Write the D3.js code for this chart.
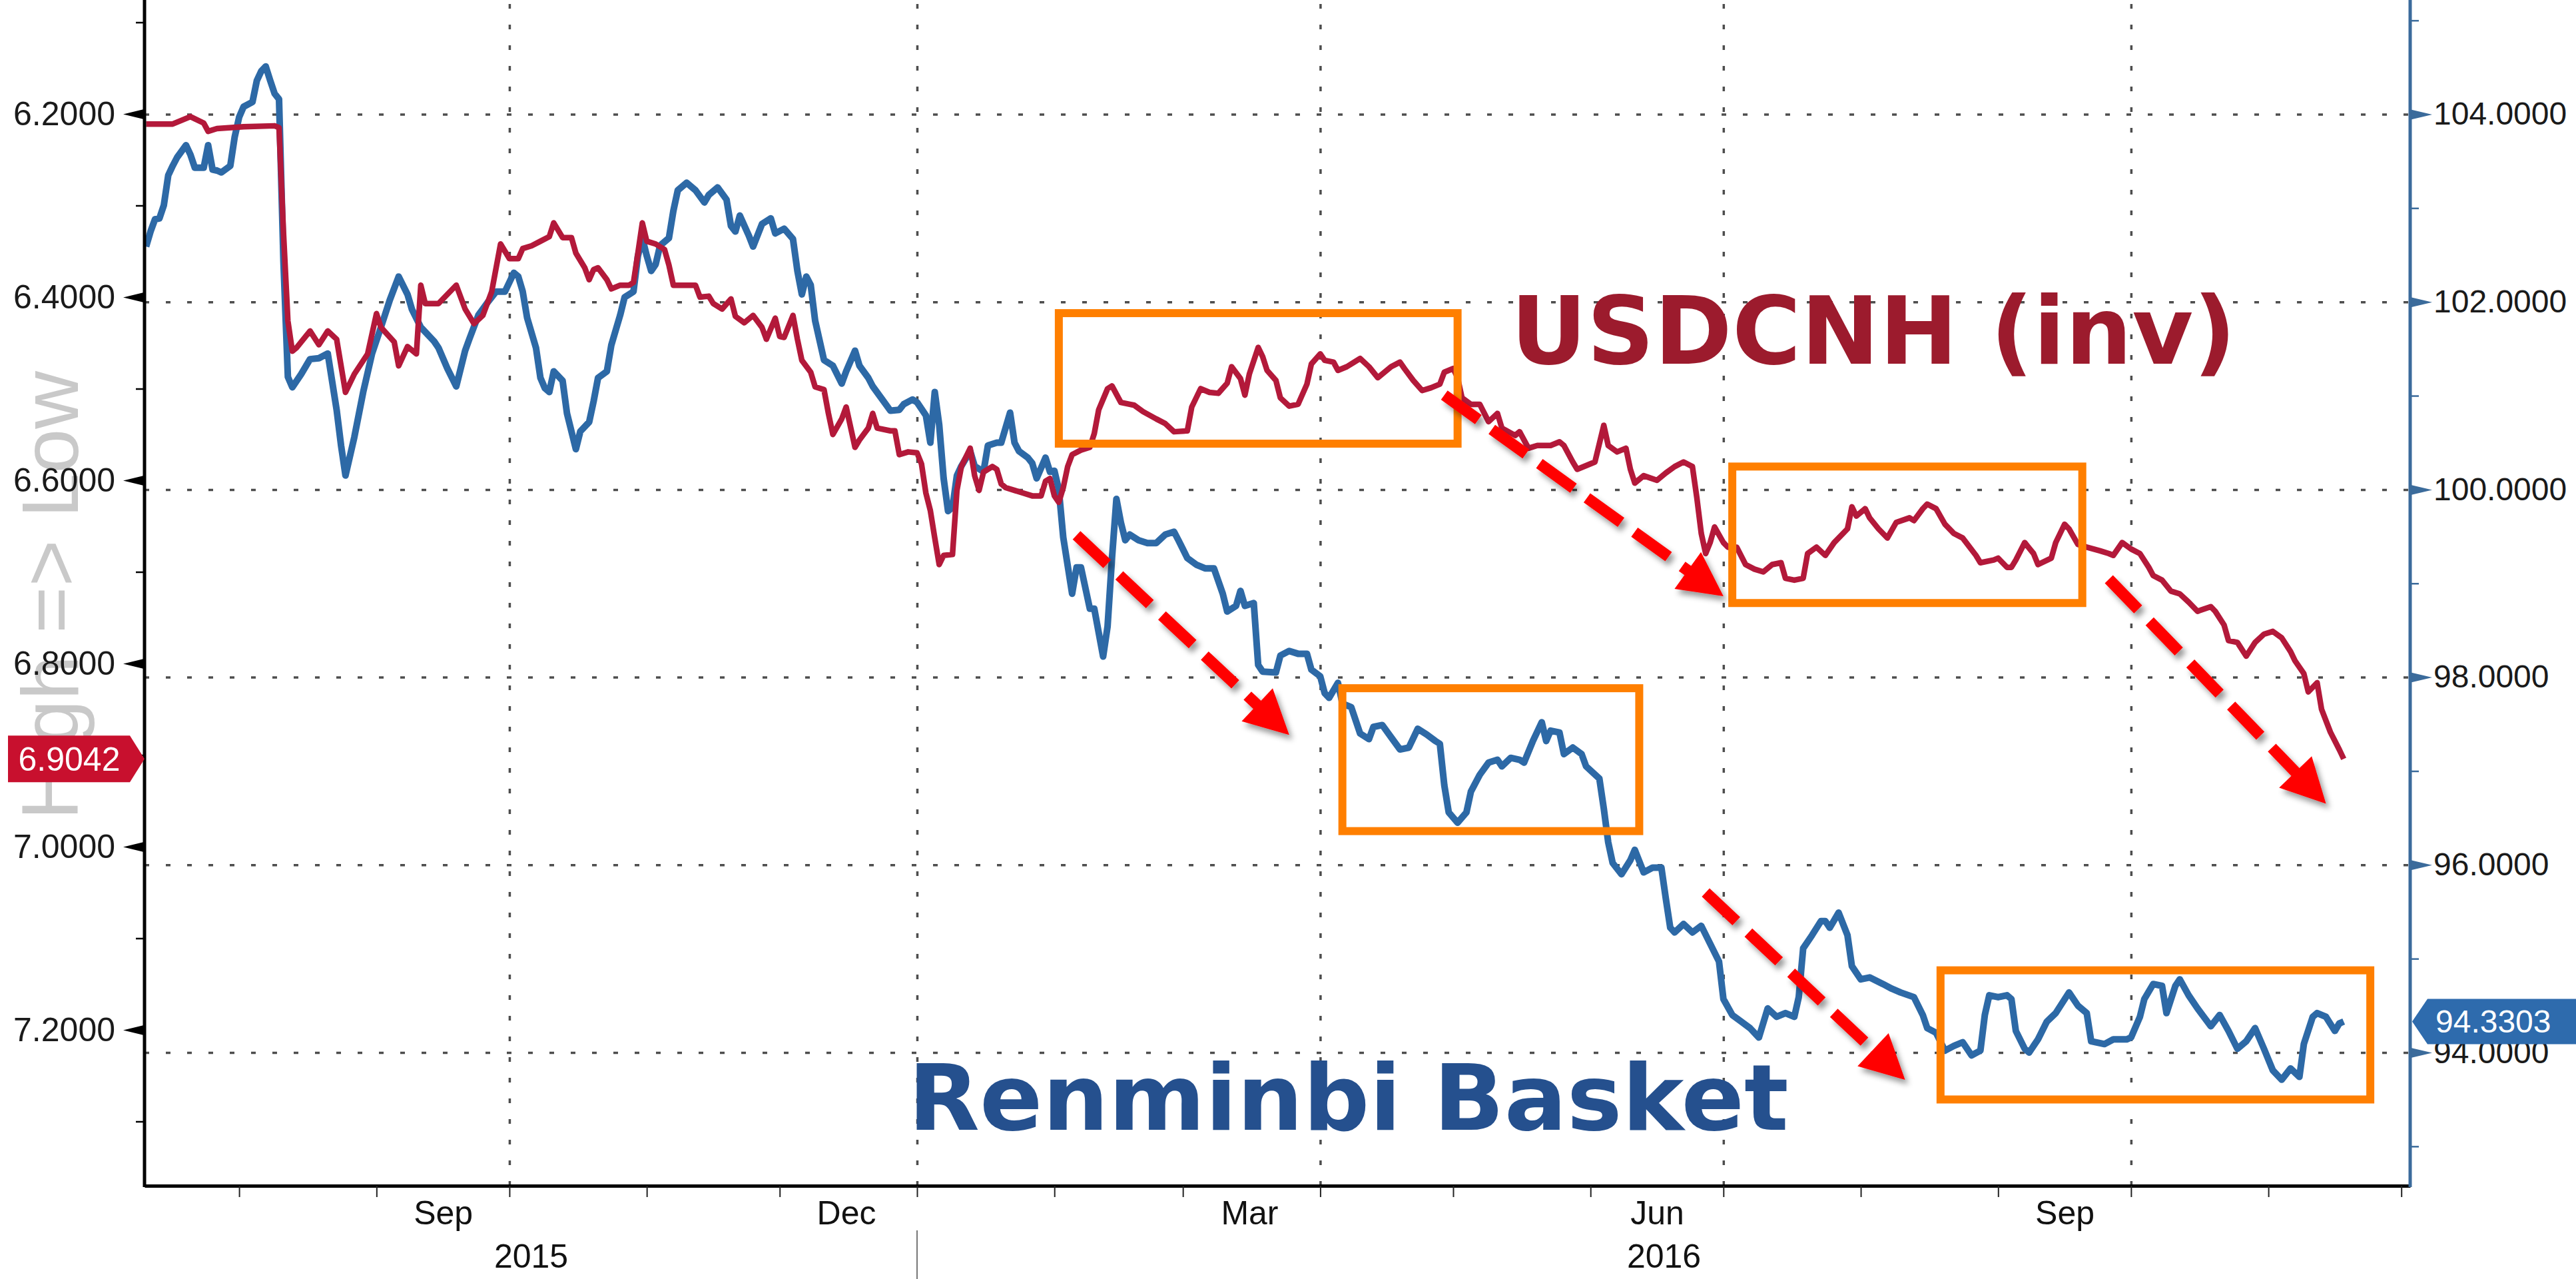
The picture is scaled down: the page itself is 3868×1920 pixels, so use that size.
<!DOCTYPE html>
<html>
<head>
<meta charset="utf-8">
<script src="https://cdn.jsdelivr.net/npm/d3@7/dist/d3.min.js"></script>
<style>
  body { margin: 0; background: #fff; }
  svg { display: block; }
</style>
</head>
<body>
<script>
// USDCNH, left axis (inverted) : [date, value]
var cnhSeries = [
  ["2015-07-11",6.211],["2015-07-17",6.211],["2015-07-21",6.203],["2015-07-24",6.210],["2015-07-25",6.219],
  ["2015-07-27",6.216],["2015-08-02",6.214],["2015-08-09",6.213],["2015-08-10",6.215],["2015-08-11",6.329],
  ["2015-08-12",6.426],["2015-08-13",6.459],["2015-08-14",6.455],["2015-08-17",6.437],["2015-08-19",6.452],
  ["2015-08-21",6.437],["2015-08-23",6.446],["2015-08-25",6.504],["2015-08-27",6.484],["2015-08-30",6.462],
  ["2015-09-01",6.418],["2015-09-02",6.433],["2015-09-05",6.449],["2015-09-06",6.475],["2015-09-08",6.454],
  ["2015-09-10",6.462],["2015-09-11",6.387],["2015-09-12",6.407],["2015-09-15",6.407],["2015-09-19",6.387],
  ["2015-09-21",6.413],["2015-09-23",6.429],["2015-09-25",6.420],["2015-09-27",6.394],["2015-09-29",6.342],
  ["2015-10-01",6.358],["2015-10-03",6.358],["2015-10-04",6.347],["2015-10-06",6.344],["2015-10-08",6.339],
  ["2015-10-10",6.334],["2015-10-11",6.319],["2015-10-13",6.335],["2015-10-15",6.335],["2015-10-16",6.352],
  ["2015-10-18",6.368],["2015-10-19",6.381],["2015-10-20",6.370],["2015-10-21",6.368],["2015-10-23",6.381],
  ["2015-10-24",6.391],["2015-10-26",6.387],["2015-10-28",6.387],["2015-10-29",6.384],["2015-10-30",6.352],
  ["2015-10-31",6.319],["2015-11-01",6.339],["2015-11-03",6.342],["2015-11-05",6.348],["2015-11-06",6.365],
  ["2015-11-07",6.387],["2015-11-09",6.387],["2015-11-12",6.387],["2015-11-13",6.400],["2015-11-15",6.399],
  ["2015-11-16",6.407],["2015-11-18",6.413],["2015-11-20",6.402],["2015-11-21",6.421],["2015-11-23",6.428],
  ["2015-11-25",6.420],["2015-11-27",6.433],["2015-11-28",6.446],["2015-11-30",6.423],["2015-12-01",6.443],
  ["2015-12-02",6.444],["2015-12-04",6.420],["2015-12-05",6.446],["2015-12-06",6.469],["2015-12-08",6.482],
  ["2015-12-09",6.498],["2015-12-11",6.501],["2015-12-12",6.527],["2015-12-13",6.550],["2015-12-15",6.533],
  ["2015-12-16",6.520],["2015-12-18",6.564],["2015-12-19",6.556],["2015-12-21",6.543],["2015-12-22",6.527],
  ["2015-12-23",6.543],["2015-12-26",6.546],["2015-12-27",6.546],["2015-12-28",6.572],["2015-12-30",6.569],
  ["2016-01-01",6.570],["2016-01-02",6.582],["2016-01-03",6.614],["2016-01-04",6.633],["2016-01-05",6.663],
  ["2016-01-06",6.692],["2016-01-07",6.682],["2016-01-09",6.681],["2016-01-10",6.611],["2016-01-11",6.585],
  ["2016-01-12",6.575],["2016-01-13",6.565],["2016-01-14",6.595],["2016-01-15",6.611],["2016-01-16",6.591],
  ["2016-01-18",6.585],["2016-01-19",6.588],["2016-01-20",6.604],["2016-01-21",6.608],["2016-01-23",6.611],
  ["2016-01-25",6.614],["2016-01-27",6.617],["2016-01-29",6.617],["2016-01-30",6.601],["2016-01-31",6.598],
  ["2016-02-01",6.617],["2016-02-02",6.624],["2016-02-03",6.608],["2016-02-04",6.585],["2016-02-05",6.572],
  ["2016-02-07",6.567],["2016-02-09",6.564],["2016-02-10",6.549],["2016-02-11",6.523],["2016-02-13",6.500],
  ["2016-02-14",6.497],["2016-02-16",6.515],["2016-02-18",6.517],["2016-02-19",6.518],["2016-02-21",6.525],
  ["2016-02-24",6.533],["2016-02-26",6.538],["2016-02-28",6.547],["2016-03-02",6.546],["2016-03-03",6.520],
  ["2016-03-05",6.500],["2016-03-07",6.504],["2016-03-09",6.505],["2016-03-11",6.494],["2016-03-12",6.476],
  ["2016-03-14",6.489],["2016-03-15",6.507],["2016-03-16",6.484],["2016-03-18",6.455],["2016-03-19",6.465],
  ["2016-03-20",6.480],["2016-03-22",6.491],["2016-03-23",6.510],["2016-03-25",6.519],["2016-03-27",6.517],
  ["2016-03-29",6.495],["2016-03-30",6.473],["2016-04-01",6.462],["2016-04-02",6.469],["2016-04-04",6.471],
  ["2016-04-05",6.480],["2016-04-07",6.476],["2016-04-10",6.467],["2016-04-12",6.476],["2016-04-14",6.488],
  ["2016-04-17",6.476],["2016-04-19",6.471],["2016-04-20",6.478],["2016-04-22",6.491],["2016-04-24",6.502],
  ["2016-04-26",6.499],["2016-04-28",6.495],["2016-04-29",6.482],["2016-05-01",6.478],["2016-05-02",6.488],
  ["2016-05-03",6.510],["2016-05-05",6.517],["2016-05-07",6.517],["2016-05-09",6.536],["2016-05-11",6.527],
  ["2016-05-12",6.543],["2016-05-15",6.551],["2016-05-16",6.547],["2016-05-18",6.565],["2016-05-20",6.562],
  ["2016-05-23",6.562],["2016-05-25",6.558],["2016-05-26",6.562],["2016-05-28",6.580],["2016-05-29",6.588],
  ["2016-05-31",6.584],["2016-06-02",6.580],["2016-06-04",6.540],["2016-06-05",6.562],["2016-06-07",6.569],
  ["2016-06-09",6.565],["2016-06-10",6.588],["2016-06-11",6.603],["2016-06-13",6.595],["2016-06-16",6.600],
  ["2016-06-18",6.592],["2016-06-20",6.585],["2016-06-22",6.580],["2016-06-24",6.585],["2016-06-25",6.619],
  ["2016-06-26",6.658],["2016-06-27",6.680],["2016-06-28",6.668],["2016-06-29",6.651],["2016-07-01",6.668],
  ["2016-07-02",6.673],["2016-07-04",6.673],["2016-07-06",6.692],["2016-07-08",6.697],["2016-07-10",6.700],
  ["2016-07-12",6.692],["2016-07-14",6.690],["2016-07-15",6.707],["2016-07-17",6.709],["2016-07-19",6.707],
  ["2016-07-20",6.680],["2016-07-22",6.673],["2016-07-24",6.682],["2016-07-26",6.668],["2016-07-29",6.653],
  ["2016-07-30",6.629],["2016-07-31",6.639],["2016-08-02",6.631],["2016-08-03",6.641],["2016-08-05",6.653],
  ["2016-08-07",6.663],["2016-08-09",6.646],["2016-08-12",6.641],["2016-08-13",6.644],["2016-08-15",6.631],
  ["2016-08-16",6.626],["2016-08-18",6.631],["2016-08-20",6.648],["2016-08-22",6.658],["2016-08-24",6.663],
  ["2016-08-27",6.682],["2016-08-28",6.690],["2016-08-31",6.687],["2016-09-01",6.685],["2016-09-03",6.695],
  ["2016-09-04",6.695],["2016-09-05",6.687],["2016-09-07",6.668],["2016-09-09",6.680],["2016-09-10",6.692],
  ["2016-09-13",6.685],["2016-09-14",6.668],["2016-09-16",6.648],["2016-09-17",6.653],["2016-09-19",6.670],
  ["2016-09-21",6.673],["2016-09-24",6.677],["2016-09-26",6.680],["2016-09-27",6.682],["2016-09-29",6.668],
  ["2016-10-01",6.675],["2016-10-03",6.680],["2016-10-05",6.695],["2016-10-06",6.704],["2016-10-08",6.709],
  ["2016-10-10",6.721],["2016-10-12",6.724],["2016-10-14",6.733],["2016-10-16",6.743],["2016-10-19",6.738],
  ["2016-10-20",6.743],["2016-10-22",6.758],["2016-10-23",6.775],["2016-10-25",6.777],["2016-10-27",6.792],
  ["2016-10-29",6.777],["2016-10-31",6.768],["2016-11-02",6.765],["2016-11-04",6.772],["2016-11-06",6.787],
  ["2016-11-07",6.797],["2016-11-09",6.811],["2016-11-10",6.831],["2016-11-12",6.821],["2016-11-13",6.850],
  ["2016-11-15",6.875],["2016-11-17",6.894],["2016-11-18",6.9042]
];

// Renminbi basket index, right axis : [date, value]
var basketSeries = [
  ["2015-07-11",102.59],["2015-07-12",102.75],["2015-07-13",102.88],["2015-07-14",102.89],["2015-07-15",103.03],
  ["2015-07-16",103.35],["2015-07-17",103.45],["2015-07-18",103.54],["2015-07-20",103.67],["2015-07-21",103.57],
  ["2015-07-22",103.43],["2015-07-24",103.43],["2015-07-25",103.67],["2015-07-26",103.41],["2015-07-27",103.40],
  ["2015-07-28",103.38],["2015-07-30",103.45],["2015-07-31",103.76],["2015-08-01",103.97],["2015-08-02",104.08],
  ["2015-08-04",104.13],["2015-08-05",104.36],["2015-08-06",104.46],["2015-08-07",104.51],["2015-08-08",104.36],
  ["2015-08-09",104.22],["2015-08-10",104.16],["2015-08-11",102.43],["2015-08-12",101.20],["2015-08-13",101.09],
  ["2015-08-15",101.23],["2015-08-17",101.39],["2015-08-19",101.40],["2015-08-21",101.45],["2015-08-23",100.85],
  ["2015-08-24",100.47],["2015-08-25",100.15],["2015-08-27",100.56],["2015-08-29",101.04],["2015-08-31",101.45],
  ["2015-09-02",101.73],["2015-09-04",102.02],["2015-09-06",102.27],["2015-09-08",102.08],["2015-09-09",101.92],
  ["2015-09-11",101.73],["2015-09-14",101.58],["2015-09-15",101.51],["2015-09-17",101.29],["2015-09-19",101.10],
  ["2015-09-21",101.48],["2015-09-22",101.61],["2015-09-24",101.86],["2015-09-26",101.99],["2015-09-28",102.11],
  ["2015-09-30",102.11],["2015-10-02",102.31],["2015-10-03",102.27],["2015-10-04",102.11],["2015-10-05",101.83],
  ["2015-10-07",101.51],["2015-10-08",101.19],["2015-10-09",101.08],["2015-10-10",101.04],["2015-10-11",101.26],
  ["2015-10-13",101.16],["2015-10-14",100.81],["2015-10-16",100.43],["2015-10-17",100.62],["2015-10-19",100.72],
  ["2015-10-20",100.94],["2015-10-21",101.19],["2015-10-23",101.26],["2015-10-24",101.54],["2015-10-26",101.86],
  ["2015-10-27",102.05],["2015-10-29",102.11],["2015-10-30",102.49],["2015-10-31",102.68],["2015-11-01",102.49],
  ["2015-11-02",102.33],["2015-11-03",102.40],["2015-11-04",102.60],["2015-11-06",102.68],["2015-11-07",102.97],
  ["2015-11-08",103.19],["2015-11-10",103.27],["2015-11-12",103.19],["2015-11-14",103.06],["2015-11-15",103.14],
  ["2015-11-17",103.22],["2015-11-19",103.09],["2015-11-20",102.81],["2015-11-21",102.75],["2015-11-22",102.92],
  ["2015-11-24",102.71],["2015-11-25",102.59],["2015-11-27",102.83],["2015-11-29",102.89],["2015-11-30",102.73],
  ["2015-12-02",102.78],["2015-12-04",102.67],["2015-12-05",102.33],["2015-12-06",102.08],["2015-12-07",102.27],
  ["2015-12-08",102.18],["2015-12-09",101.80],["2015-12-11",101.38],["2015-12-13",101.32],["2015-12-15",101.13],
  ["2015-12-16",101.26],["2015-12-18",101.48],["2015-12-19",101.32],["2015-12-21",101.19],["2015-12-22",101.10],
  ["2015-12-24",100.97],["2015-12-26",100.84],["2015-12-28",100.85],["2015-12-29",100.91],["2015-12-31",100.96],
  ["2016-01-01",100.93],["2016-01-03",100.79],["2016-01-04",100.50],["2016-01-05",101.04],["2016-01-06",100.69],
  ["2016-01-07",100.12],["2016-01-08",99.77],["2016-01-09",99.81],["2016-01-10",100.15],["2016-01-11",100.25],
  ["2016-01-13",100.41],["2016-01-14",100.25],["2016-01-16",100.19],["2016-01-17",100.47],["2016-01-19",100.50],
  ["2016-01-20",100.50],["2016-01-22",100.82],["2016-01-23",100.50],["2016-01-24",100.41],["2016-01-26",100.34],
  ["2016-01-27",100.28],["2016-01-28",100.12],["2016-01-30",100.34],["2016-01-31",100.19],["2016-02-01",100.20],
  ["2016-02-02",100.00],["2016-02-03",99.49],["2016-02-05",98.89],["2016-02-06",99.17],["2016-02-07",99.17],
  ["2016-02-09",98.73],["2016-02-10",98.73],["2016-02-12",98.22],["2016-02-13",98.54],["2016-02-14",99.27],
  ["2016-02-15",99.90],["2016-02-16",99.65],["2016-02-17",99.46],["2016-02-18",99.52],["2016-02-20",99.46],
  ["2016-02-22",99.43],["2016-02-24",99.43],["2016-02-26",99.52],["2016-02-28",99.55],["2016-02-29",99.46],
  ["2016-03-02",99.27],["2016-03-04",99.20],["2016-03-06",99.16],["2016-03-08",99.16],["2016-03-10",98.89],
  ["2016-03-11",98.70],["2016-03-13",98.76],["2016-03-14",98.92],["2016-03-15",98.76],["2016-03-17",98.79],
  ["2016-03-18",98.13],["2016-03-19",98.06],["2016-03-22",98.05],["2016-03-23",98.23],["2016-03-25",98.28],
  ["2016-03-27",98.25],["2016-03-29",98.25],["2016-03-30",98.08],["2016-04-01",98.01],["2016-04-02",97.83],
  ["2016-04-03",97.78],["2016-04-05",97.94],["2016-04-06",97.72],["2016-04-08",97.68],["2016-04-10",97.40],
  ["2016-04-12",97.34],["2016-04-13",97.47],["2016-04-15",97.49],["2016-04-17",97.36],["2016-04-19",97.23],
  ["2016-04-21",97.25],["2016-04-23",97.45],["2016-04-25",97.39],["2016-04-27",97.32],["2016-04-28",97.29],
  ["2016-04-29",96.85],["2016-04-30",96.56],["2016-05-02",96.45],["2016-05-04",96.56],["2016-05-05",96.78],
  ["2016-05-07",96.96],["2016-05-09",97.09],["2016-05-11",97.12],["2016-05-12",97.05],["2016-05-14",97.14],
  ["2016-05-16",97.12],["2016-05-17",97.09],["2016-05-19",97.32],["2016-05-21",97.52],["2016-05-22",97.32],
  ["2016-05-23",97.43],["2016-05-25",97.41],["2016-05-26",97.18],["2016-05-28",97.25],["2016-05-30",97.18],
  ["2016-05-31",97.05],["2016-06-03",96.92],["2016-06-04",96.60],["2016-06-05",96.24],["2016-06-06",96.02],
  ["2016-06-08",95.90],["2016-06-10",96.05],["2016-06-11",96.16],["2016-06-13",95.92],["2016-06-15",95.97],
  ["2016-06-17",95.97],["2016-06-18",95.64],["2016-06-19",95.33],["2016-06-20",95.28],["2016-06-22",95.37],
  ["2016-06-24",95.28],["2016-06-26",95.35],["2016-06-28",95.16],["2016-06-30",94.97],["2016-07-01",94.57],
  ["2016-07-03",94.40],["2016-07-05",94.33],["2016-07-07",94.26],["2016-07-09",94.16],["2016-07-11",94.47],
  ["2016-07-13",94.38],["2016-07-15",94.42],["2016-07-17",94.38],["2016-07-18",94.59],["2016-07-19",95.11],
  ["2016-07-21",95.25],["2016-07-23",95.40],["2016-07-24",95.40],["2016-07-25",95.33],["2016-07-27",95.49],
  ["2016-07-29",95.25],["2016-07-30",94.92],["2016-08-01",94.78],["2016-08-03",94.80],["2016-08-06",94.73],
  ["2016-08-08",94.68],["2016-08-10",94.64],["2016-08-13",94.59],["2016-08-15",94.40],["2016-08-16",94.26],
  ["2016-08-18",94.21],["2016-08-20",94.02],["2016-08-22",94.07],["2016-08-24",94.11],["2016-08-26",93.97],
  ["2016-08-28",94.02],["2016-08-29",94.40],["2016-08-30",94.61],["2016-09-01",94.59],["2016-09-03",94.61],
  ["2016-09-04",94.57],["2016-09-05",94.23],["2016-09-07",94.04],["2016-09-08",94.00],["2016-09-10",94.14],
  ["2016-09-12",94.33],["2016-09-14",94.42],["2016-09-17",94.64],["2016-09-19",94.50],["2016-09-21",94.42],
  ["2016-09-22",94.12],["2016-09-25",94.09],["2016-09-27",94.14],["2016-09-30",94.14],["2016-10-01",94.16],
  ["2016-10-03",94.38],["2016-10-04",94.57],["2016-10-06",94.73],["2016-10-08",94.71],["2016-10-09",94.42],
  ["2016-10-11",94.71],["2016-10-12",94.78],["2016-10-14",94.61],["2016-10-16",94.47],["2016-10-19",94.28],
  ["2016-10-21",94.40],["2016-10-23",94.23],["2016-10-25",94.04],["2016-10-27",94.12],["2016-10-29",94.26],
  ["2016-10-31",94.04],["2016-11-02",93.81],["2016-11-04",93.71],["2016-11-06",93.83],["2016-11-08",93.74],
  ["2016-11-09",94.09],["2016-11-11",94.38],["2016-11-12",94.42],["2016-11-14",94.38],["2016-11-16",94.23],
  ["2016-11-17",94.31],["2016-11-18",94.3303]
];

var leftTicks = [6.2, 6.4, 6.6, 6.8, 7.0, 7.2];
var leftMinorTicks = [6.1, 6.3, 6.5, 6.7, 6.9, 7.1, 7.3];
var rightTicks = [104, 102, 100, 98, 96, 94];
var rightMinorTicks = [105, 103, 101, 99, 97, 95, 93];
var monthLabelDates = ["2015-09-16", "2015-12-16", "2016-03-16", "2016-06-16", "2016-09-16"];
var gridDates = ["2015-10-01", "2016-01-01", "2016-04-01", "2016-07-01", "2016-10-01"];
var yearBreak = "2016-01-01";

// annotations, in date / left-axis units
var boxStarts  = ["2016-02-02", "2016-04-06", "2016-07-03", "2016-08-19"];
var boxEnds    = ["2016-05-02", "2016-06-12", "2016-09-20", "2016-11-24"];
var boxTops    = [6.4175, 6.827, 6.585, 7.135];
var boxBottoms = [6.560, 6.983, 6.734, 7.276];
var arrowFrom = [["2016-02-06", 6.660], ["2016-04-29", 6.507], ["2016-06-27", 7.050], ["2016-09-26", 6.708]];
var arrowTo   = [["2016-03-25", 6.878], ["2016-07-01", 6.7265], ["2016-08-11", 7.2545], ["2016-11-14", 6.953]];
var cnhTitle = {text: "USDCNH (inv)", date: "2016-05-14", value: 6.4727};
var basketTitle = {text: "Renminbi Basket", date: "2015-12-30", value: 7.309};

var width = 3868, height = 1920;
var plotLeft = 217, plotRight = 3619, plotBottom = 1780;
var redColor = "#b3193a", blueColor = "#2d69a6", rightAxisColor = "#3b6b9b";
var parse = d3.utcParse("%Y-%m-%d");

var x = d3.scaleUtc()
  .domain([new Date("2015-07-10T15:22:00Z"), new Date("2016-12-03T00:00:00Z")])
  .range([plotLeft, plotRight]);
var yLeft = d3.scaleLinear().domain([6.2, 7.2]).range([171, 1546]);
var yRight = d3.scaleLinear().domain([104, 94]).range([171.5, 1580]);

var svg = d3.select("body").append("svg")
  .attr("width", width).attr("height", height)
  .attr("font-family", "'Liberation Sans', Arial, sans-serif");

var defs = svg.append("defs");
defs.append("clipPath").attr("id", "plotClip")
  .append("rect").attr("x", plotLeft).attr("y", 0)
  .attr("width", plotRight - plotLeft).attr("height", plotBottom);
defs.append("filter").attr("id", "arrowShadow")
  .attr("x", "-20%").attr("y", "-20%").attr("width", "140%").attr("height", "140%")
  .append("feDropShadow").attr("dx", 5).attr("dy", 7).attr("stdDeviation", 4)
  .attr("flood-color", "#000").attr("flood-opacity", 0.4);

// grid
svg.append("g")
  .attr("transform", "translate(" + plotLeft + ",0)")
  .call(d3.axisLeft(yRight).tickValues(rightTicks).tickSize(-(plotRight - plotLeft)).tickFormat(""))
  .call(function(g){ g.select(".domain").remove(); })
  .selectAll("line")
  .attr("stroke", "#4d4d4d").attr("stroke-width", 3.5).attr("stroke-dasharray", "7,25");

svg.append("g")
  .attr("transform", "translate(0," + plotBottom + ")")
  .call(d3.axisBottom(x).tickValues(gridDates.map(parse)).tickSize(-plotBottom).tickFormat(""))
  .call(function(g){ g.select(".domain").remove(); })
  .selectAll("line")
  .attr("stroke", "#4d4d4d").attr("stroke-width", 3.5).attr("stroke-dasharray", "7,24");

// faint axis note
svg.append("text")
  .attr("transform", "translate(117,557) rotate(-90)")
  .attr("text-anchor", "end")
  .attr("font-size", 120)
  .attr("fill", "#c9c9c9")
  .text("High => Low");

// series
var lines = svg.append("g").attr("clip-path", "url(#plotClip)");
lines.append("path")
  .datum(basketSeries)
  .attr("fill", "none").attr("stroke", blueColor).attr("stroke-width", 10)
  .attr("stroke-linejoin", "round")
  .attr("d", d3.line().x(function(d){ return x(parse(d[0])); }).y(function(d){ return yRight(d[1]); }));
lines.append("path")
  .datum(cnhSeries)
  .attr("fill", "none").attr("stroke", redColor).attr("stroke-width", 8.5)
  .attr("stroke-linejoin", "round")
  .attr("d", d3.line().x(function(d){ return x(parse(d[0])); }).y(function(d){ return yLeft(d[1]); }));

// orange boxes
boxStarts.forEach(function(s, i){
  var x0 = x(parse(s)), x1 = x(parse(boxEnds[i]));
  var y0 = yLeft(boxTops[i]), y1 = yLeft(boxBottoms[i]);
  svg.append("rect")
    .attr("x", x0).attr("y", y0).attr("width", x1 - x0).attr("height", y1 - y0)
    .attr("fill", "none").attr("stroke", "#ff7f00").attr("stroke-width", 12);
});

// red dashed arrows
var arrows = svg.append("g").attr("filter", "url(#arrowShadow)");
arrowFrom.forEach(function(a, i){
  var x1 = x(parse(a[0])), y1 = yLeft(a[1]);
  var x2 = x(parse(arrowTo[i][0])), y2 = yLeft(arrowTo[i][1]);
  var dx = x2 - x1, dy = y2 - y1, len = Math.sqrt(dx * dx + dy * dy);
  var ux = dx / len, uy = dy / len;
  var headLen = 66, headHalf = 34;
  var bx = x2 - ux * headLen, by = y2 - uy * headLen;
  arrows.append("line")
    .attr("x1", x1).attr("y1", y1).attr("x2", bx + ux * 3).attr("y2", by + uy * 3)
    .attr("stroke", "#ff0000").attr("stroke-width", 17).attr("stroke-dasharray", "63,25");
  arrows.append("path")
    .attr("d", "M" + x2 + "," + y2 +
      "L" + (bx - uy * headHalf) + "," + (by + ux * headHalf) +
      "L" + (bx + uy * headHalf) + "," + (by - ux * headHalf) + "Z")
    .attr("fill", "#ff0000");
});

// big series titles
svg.append("text")
  .attr("x", x(parse(cnhTitle.date))).attr("y", yLeft(cnhTitle.value))
  .attr("font-family", "'DejaVu Sans', Verdana, sans-serif").attr("font-weight", "bold")
  .attr("font-size", 140).attr("fill", "#9c1b2d")
  .attr("textLength", 1089).attr("lengthAdjust", "spacingAndGlyphs")
  .text(cnhTitle.text);
svg.append("text")
  .attr("x", x(parse(basketTitle.date))).attr("y", yLeft(basketTitle.value))
  .attr("font-family", "'DejaVu Sans', Verdana, sans-serif").attr("font-weight", "bold")
  .attr("font-size", 138).attr("fill", "#25508e")
  .attr("textLength", 1322).attr("lengthAdjust", "spacingAndGlyphs")
  .text(basketTitle.text);

// bottom axis
var xAxis = svg.append("g")
  .attr("transform", "translate(0," + plotBottom + ")")
  .call(d3.axisBottom(x).ticks(d3.utcMonth.every(1)).tickSize(17).tickSizeOuter(0).tickFormat(""));
xAxis.select(".domain").attr("stroke", "#000").attr("stroke-width", 5);
xAxis.selectAll(".tick line").attr("stroke", "#222").attr("stroke-width", 2);

svg.append("g")
  .attr("transform", "translate(0," + plotBottom + ")")
  .call(d3.axisBottom(x).tickValues(monthLabelDates.map(parse)).tickSize(0).tickPadding(22)
    .tickFormat(d3.utcFormat("%b")))
  .call(function(g){ g.select(".domain").remove(); })
  .attr("font-size", 50).attr("font-family", null)
  .selectAll("text").attr("fill", "#111");

var breakX = x(parse(yearBreak));
var yearMids = [x.invert((plotLeft + breakX) / 2), x.invert((breakX + plotRight) / 2)];
svg.append("g")
  .attr("transform", "translate(0," + plotBottom + ")")
  .call(d3.axisBottom(x).tickValues(yearMids).tickSize(0).tickPadding(87)
    .tickFormat(d3.utcFormat("%Y")))
  .call(function(g){ g.select(".domain").remove(); })
  .attr("font-size", 50).attr("font-family", null)
  .selectAll("text").attr("fill", "#111");

svg.append("line")
  .attr("x1", breakX).attr("x2", breakX).attr("y1", 1847).attr("y2", height)
  .attr("stroke", "#777").attr("stroke-width", 2);

// left axis
var leftAxis = svg.append("g")
  .attr("transform", "translate(" + plotLeft + ",0)")
  .call(d3.axisLeft(yLeft).tickValues(leftTicks).tickSize(0).tickPadding(44).tickFormat(d3.format(".4f")))
  .attr("font-size", 50).attr("font-family", null);
leftAxis.select(".domain").remove();
leftAxis.selectAll(".tick text").attr("fill", "#1a1a1a");
leftAxis.selectAll(".tick").append("path").attr("d", "M1,-8L1,8L-32,0Z").attr("fill", "#000");

svg.append("g")
  .attr("transform", "translate(" + plotLeft + ",0)")
  .call(d3.axisLeft(yLeft).tickValues(leftMinorTicks).tickSize(13).tickFormat(""))
  .call(function(g){ g.select(".domain").remove(); })
  .selectAll("line").attr("stroke", "#000").attr("stroke-width", 2.5);

svg.append("line")
  .attr("x1", plotLeft).attr("x2", plotLeft).attr("y1", 0).attr("y2", plotBottom + 2)
  .attr("stroke", "#000").attr("stroke-width", 5);

// right axis
var rightAxis = svg.append("g")
  .attr("transform", "translate(" + plotRight + ",0)")
  .call(d3.axisRight(yRight).tickValues(rightTicks).tickSize(0).tickPadding(35).tickFormat(d3.format(".4f")))
  .attr("font-size", 48).attr("font-family", null);
rightAxis.select(".domain").remove();
rightAxis.selectAll(".tick text").attr("fill", "#1a1a1a");
rightAxis.selectAll(".tick").append("path").attr("d", "M-1,-8L-1,8L33,0Z").attr("fill", rightAxisColor);

svg.append("g")
  .attr("transform", "translate(" + plotRight + ",0)")
  .call(d3.axisRight(yRight).tickValues(rightMinorTicks).tickSize(13).tickFormat(""))
  .call(function(g){ g.select(".domain").remove(); })
  .selectAll("line").attr("stroke", rightAxisColor).attr("stroke-width", 2.5);

svg.append("line")
  .attr("x1", plotRight).attr("x2", plotRight).attr("y1", 0).attr("y2", plotBottom + 2)
  .attr("stroke", rightAxisColor).attr("stroke-width", 5);

// last value tags
var lastCnh = cnhSeries[cnhSeries.length - 1];
var ly = yLeft(lastCnh[1]);
svg.append("path")
  .attr("d", "M12," + (ly - 35) + "L195," + (ly - 35) + "L" + plotLeft + "," + ly +
    "L195," + (ly + 35) + "L12," + (ly + 35) + "Z")
  .attr("fill", "#c8102e");
svg.append("text")
  .attr("x", 104).attr("y", ly).attr("dy", "0.35em").attr("text-anchor", "middle")
  .attr("font-size", 50).attr("fill", "#fff")
  .text(d3.format(".4f")(lastCnh[1]));

var lastBasket = basketSeries[basketSeries.length - 1];
var ry = yRight(lastBasket[1]);
svg.append("path")
  .attr("d", "M" + (plotRight + 3) + "," + ry + "L3645," + (ry - 34) + "L" + width + "," + (ry - 34) +
    "L" + width + "," + (ry + 34) + "L3645," + (ry + 34) + "Z")
  .attr("fill", "#2e6bad");
svg.append("text")
  .attr("x", 3657).attr("y", ry).attr("dy", "0.35em")
  .attr("font-size", 48).attr("fill", "#fff")
  .text(d3.format(".4f")(lastBasket[1]));
</script>
</body>
</html>
